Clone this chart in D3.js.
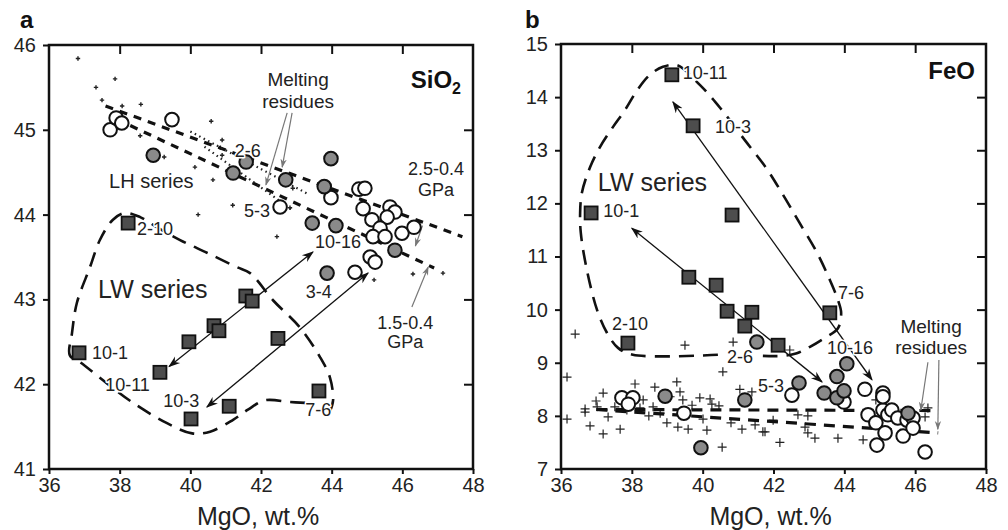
<!DOCTYPE html>
<html>
<head>
<meta charset="utf-8">
<script src="https://cdn.jsdelivr.net/npm/d3@7"></script>
<style>
  body { margin: 0; background: #fff; }
  svg { font-family: "Liberation Sans", Arial, sans-serif; }
  .axis path { display: none; }
  .axis line { stroke: #111; stroke-width: 2; }
  .axis text { font-size: 20px; fill: #222; }
  .lbl { paint-order: stroke; stroke: #fff; stroke-width: 3px; stroke-linejoin: round; }
</style>
</head>
<body>
<svg id="FIG" width="1008" height="530"></svg>
<script>
var xTicks = [36, 38, 40, 42, 44, 46, 48];

// ---------- panel a : SiO2 ----------
var aTicksY = [41, 42, 43, 44, 45, 46];
var aLW = [[38.24,43.90],[36.85,42.37],[39.14,42.14],[40.02,41.59],[41.10,41.74],[39.96,42.50],
  [40.67,42.69],[40.81,42.63],[41.57,43.04],[41.75,42.98],[42.48,42.54],[43.64,41.92]];
var aGray = [[38.95,44.70],[41.21,44.49],[41.58,44.62],[42.70,44.41],[43.79,44.33],[43.98,44.66],
  [43.45,43.90],[44.12,43.87],[45.79,43.58],[43.87,43.31]];
var aOpen = [[37.73,45.00],[37.90,45.14],[38.06,45.08],[39.48,45.12],[42.54,44.09],[43.98,44.20],
  [44.77,44.30],[44.94,44.31],[44.89,44.07],[45.14,43.94],[45.65,44.09],[45.79,44.03],[45.57,43.97],
  [45.37,43.84],[45.17,43.74],[45.51,43.74],[45.99,43.78],[46.33,43.85],[45.09,43.50],[45.23,43.44],
  [44.66,43.32]];
var aPlus = [[36.82,45.84],[37.87,45.60],[37.33,45.50],[37.50,45.35],[38.07,45.28],[38.60,45.30],
  [38.58,44.93],[40.59,45.10],[39.26,44.68],[40.13,44.56],[40.64,44.41],[40.90,44.88],[40.85,44.79],
  [40.90,44.70],[41.20,44.11],[40.22,44.00],[42.45,43.74],[46.30,43.30],[47.15,43.31],[45.20,43.23],
  [42.90,44.31],[42.82,44.08]];
var aTrendHigh = [[37.6,45.28],[47.7,43.74]];
var aTrendLow = [[38.3,45.05],[46.9,43.37]];
var aDotA = [[40.0,44.98],[43.3,44.25]];
var aDotB = [[40.4,44.80],[42.9,44.05]];
var aEnvelope = [[43.25,41.78],[42.82,41.79],[42.11,41.81],[41.63,41.70],[41.21,41.58],[40.56,41.44],
  [40.05,41.42],[39.34,41.54],[38.38,41.78],[37.64,42.01],[36.88,42.26],[36.59,42.34],[36.65,42.60],
  [36.79,42.96],[37.16,43.38],[37.44,43.70],[37.81,43.94],[38.15,44.02],[38.58,43.97],[39.06,43.85],
  [39.71,43.70],[40.47,43.55],[41.32,43.38],[41.69,43.31],[42.34,42.99],[43.10,42.67],[43.67,42.32],
  [43.95,42.08],[44.04,41.81],[43.95,41.68]];
// [x1, y1, x2, y2, both heads]
var aArrows = [[39.40,42.21,43.47,43.56,1],[40.47,41.73,45.03,43.31,1]];
var aGrayArrows = [[42.74,45.20,42.14,44.35],[42.88,45.20,42.60,44.56],
  [46.57,43.87,46.37,43.63],[46.27,42.91,46.73,43.38]];
// [text, x, y, size, anchor]
var aLabels = [["2-10",38.49,43.83,18],["10-1",37.22,42.37,18],["10-11",37.59,42.00,18],
  ["10-3",39.23,41.81,18],["7-6",43.25,41.70,18],["LW series",37.39,43.12,25],["LH series",37.70,44.40,20],
  ["2-6",41.26,44.76,18],["5-3",41.52,44.05,18],["10-16",43.53,43.68,18],["3-4",43.27,43.09,18],
  ["Melting",43.05,45.60,19,"middle"],["residues",43.05,45.34,19,"middle"],
  ["2.5-0.4",46.95,44.54,18,"middle"],["GPa",46.95,44.29,18,"middle"],
  ["1.5-0.4",46.08,42.73,18,"middle"],["GPa",46.08,42.50,18,"middle"]];

// ---------- panel b : FeO ----------
var bTicksY = [7, 8, 9, 10, 11, 12, 13, 14, 15];
var bLW = [[39.13,14.42],[39.73,13.46],[36.85,11.82],[40.83,11.78],[39.61,10.61],[40.38,10.46],
  [40.69,9.97],[41.19,9.69],[41.39,9.95],[37.89,9.37],[42.13,9.33],[43.59,9.94]];
var bGray = [[41.53,9.39],[42.72,8.62],[44.07,8.98],[43.79,8.74],[43.43,8.43],[43.79,8.34],
  [43.99,8.47],[45.80,8.05],[38.94,8.37],[41.19,8.30],[39.95,7.40]];
var bOpen = [[37.72,8.34],[38.03,8.34],[37.90,8.22],[39.47,8.05],[42.52,8.39],[43.99,8.26],
  [44.58,8.50],[45.09,8.43],[44.67,8.02],[44.89,7.87],[45.09,8.11],[45.23,8.02],[45.34,8.11],
  [45.51,7.96],[45.77,7.92],[45.94,7.96],[45.15,7.68],[45.66,7.62],[45.94,7.77],[44.92,7.45],
  [46.28,7.32],[45.09,8.36]];
var bPlus = [[36.40,9.54],[36.17,8.73],[36.17,7.94],[39.50,9.33],[40.86,9.39],[40.57,8.83],
  [39.27,8.64],[38.09,8.60],[37.19,8.43],[38.65,8.54],[41.05,8.50],[41.39,8.45],[36.99,8.28],
  [36.68,8.13],[37.33,7.98],[36.82,7.81],[37.19,7.66],[37.67,7.75],[38.23,8.15],[38.48,8.00],
  [38.99,7.87],[39.30,7.79],[39.59,7.75],[40.01,7.94],[40.12,7.73],[40.55,7.41],[40.21,8.32],
  [40.46,8.19],[40.80,7.87],[41.11,7.75],[41.48,7.83],[41.70,7.70],[41.99,7.92],[39.08,8.36],
  [39.44,8.30],[39.70,8.20],[37.52,8.17],[37.86,8.11],[38.60,8.17],[38.80,8.05],[46.36,8.15],
  [46.28,7.98],[42.69,8.02],[42.97,8.00],[42.89,7.79],[42.97,7.68],[43.17,7.58],[43.82,7.58],
  [44.53,7.55],[42.18,7.50],[44.89,8.30],[41.76,7.70],[42.46,9.24],[39.92,8.34],[40.26,8.22],
  [39.36,8.45],[38.32,8.30],[37.02,8.17],[36.68,8.07]];
var bTrendHigh = [[37.0,8.12],[46.5,8.10]];
var bTrendLow = [[37.0,8.12],[46.65,7.68]];
var bEnvelope = [[40.43,9.15],[38.03,9.15],[37.61,9.28],[37.30,9.56],[37.02,9.99],[36.73,10.75],
  [36.56,11.44],[36.54,11.82],[36.59,12.20],[36.82,12.68],[37.10,13.06],[37.47,13.44],[37.81,13.76],
  [38.15,14.13],[38.51,14.42],[38.88,14.57],[39.28,14.60],[39.92,14.23],[40.49,13.80],[41.19,13.19],
  [41.79,12.67],[42.27,12.16],[42.72,11.65],[43.23,11.07],[43.59,10.56],[43.82,10.18],[43.91,9.94],
  [43.82,9.65],[43.45,9.47],[43.03,9.30],[42.66,9.18],[42.27,9.13],[41.70,9.13]];
var bArrows = [[39.16,13.91,44.78,8.68,1],[38.00,11.53,43.37,8.64,1]];
var bGrayArrows = [[46.36,9.01,46.16,8.11],[46.67,9.05,46.64,7.75]];
var bLabels = [["10-11",39.44,14.47,18],["10-3",40.35,13.44,18],["LW series",37.04,12.40,25],
  ["10-1",37.19,11.86,18],["2-10",37.44,9.73,18],["2-6",40.69,9.11,18],["5-3",41.56,8.58,18],
  ["10-16",43.51,9.28,18],["7-6",43.82,10.33,18],
  ["Melting",46.45,9.68,19,"middle"],["residues",46.45,9.30,19,"middle"]];

var svg = d3.select("#FIG");
var defs = svg.append("defs");

function addHead(id, color, size) {
  defs.append("marker")
    .attr("id", id)
    .attr("viewBox", "0 0 10 10")
    .attr("refX", 9).attr("refY", 5)
    .attr("markerUnits", "userSpaceOnUse")
    .attr("markerWidth", size).attr("markerHeight", size)
    .attr("orient", "auto-start-reverse")
    .append("path")
    .attr("d", "M0,1.5L10,5L0,8.5L3,5Z")
    .attr("fill", color);
}
addHead("head", "#111", 12);
addHead("headGray", "#777", 9);

function plus(s) { return "M" + (-s) + ",0H" + s + "M0," + (-s) + "V" + s; }

function drawPanel(P) {
  var x = d3.scaleLinear().domain([36, 48]).range(P.xr);
  var y = d3.scaleLinear().domain(P.yd).range(P.yr);
  var g = svg.append("g");
  var line = d3.line()
    .defined(function(d) { return d != null; })
    .x(function(d) { return x(d[0]); })
    .y(function(d) { return y(d[1]); });

  // axes (outer ticks on bottom/left, inner mirror ticks top/right)
  g.append("g").attr("class", "axis")
    .attr("transform", "translate(0," + P.yr[0] + ")")
    .call(d3.axisBottom(x).tickValues(xTicks).tickFormat(d3.format("d"))
      .tickSizeInner(5).tickSizeOuter(0).tickPadding(4));
  g.append("g").attr("class", "axis")
    .attr("transform", "translate(" + P.xr[0] + ",0)")
    .call(d3.axisLeft(y).tickValues(P.yTicks).tickFormat(d3.format("d"))
      .tickSizeInner(6).tickSizeOuter(0).tickPadding(7));
  g.append("g").attr("class", "axis")
    .attr("transform", "translate(0," + P.yr[1] + ")")
    .call(d3.axisTop(x).tickValues(xTicks.slice(1, -1)).tickSize(-9).tickFormat(""));
  g.append("g").attr("class", "axis")
    .attr("transform", "translate(" + P.xr[1] + ",0)")
    .call(d3.axisRight(y).tickValues(P.yTicks.slice(1, -1)).tickSize(-9).tickFormat(""));
  g.append("rect")
    .attr("x", P.xr[0]).attr("y", P.yr[1])
    .attr("width", P.xr[1] - P.xr[0]).attr("height", P.yr[0] - P.yr[1])
    .attr("fill", "none").attr("stroke", "#111").attr("stroke-width", 2.5);

  // small crosses
  g.append("g").selectAll("path").data(P.plus).enter().append("path")
    .attr("transform", function(d) { return "translate(" + x(d[0]) + "," + y(d[1]) + ")"; })
    .attr("d", plus(P.plusSize))
    .attr("stroke", "#222").attr("stroke-width", P.plusWidth).attr("fill", "none");

  // melting residue trends
  P.trends.forEach(function(t) {
    g.append("path").attr("d", line(t))
      .attr("fill", "none").attr("stroke", "#111").attr("stroke-width", 3.2)
      .attr("stroke-dasharray", P.trendDash);
  });
  (P.dots || []).forEach(function(t) {
    g.append("path").attr("d", line(t))
      .attr("fill", "none").attr("stroke", "#222").attr("stroke-width", 2.2)
      .attr("stroke-dasharray", "1.5,3.5");
  });

  // LW envelope
  g.append("path")
    .attr("d", line.curve(d3.curveCatmullRom)(P.envelope))
    .attr("fill", "none").attr("stroke", "#111").attr("stroke-width", 2.6)
    .attr("stroke-dasharray", "15,9");
  line.curve(d3.curveLinear);

  // arrows
  g.append("g").selectAll("line").data(P.arrows).enter().append("line")
    .attr("x1", function(d) { return x(d[0]); }).attr("y1", function(d) { return y(d[1]); })
    .attr("x2", function(d) { return x(d[2]); }).attr("y2", function(d) { return y(d[3]); })
    .attr("stroke", "#111").attr("stroke-width", 1.3)
    .attr("marker-end", "url(#head)")
    .attr("marker-start", function(d) { return d[4] ? "url(#head)" : null; });
  g.append("g").selectAll("line").data(P.grayArrows).enter().append("line")
    .attr("x1", function(d) { return x(d[0]); }).attr("y1", function(d) { return y(d[1]); })
    .attr("x2", function(d) { return x(d[2]); }).attr("y2", function(d) { return y(d[3]); })
    .attr("stroke", "#777").attr("stroke-width", 1.2)
    .attr("marker-end", "url(#headGray)");

  // LW squares
  g.append("g").selectAll("rect").data(P.lw).enter().append("rect")
    .attr("x", function(d) { return x(d[0]) - 6.5; }).attr("y", function(d) { return y(d[1]) - 6.5; })
    .attr("width", 13).attr("height", 13)
    .attr("fill", "#4d4d4d").attr("stroke", "#111").attr("stroke-width", 1.8);
  // LH open + gray circles
  g.append("g").selectAll("circle").data(P.open).enter().append("circle")
    .attr("cx", function(d) { return x(d[0]); }).attr("cy", function(d) { return y(d[1]); })
    .attr("r", 6.8).attr("fill", "#fff").attr("stroke", "#111").attr("stroke-width", 2);
  g.append("g").selectAll("circle").data(P.gray).enter().append("circle")
    .attr("cx", function(d) { return x(d[0]); }).attr("cy", function(d) { return y(d[1]); })
    .attr("r", 6.8).attr("fill", "#8a8a8a").attr("stroke", "#111").attr("stroke-width", 2);

  // labels
  g.append("g").selectAll("text").data(P.labels).enter().append("text")
    .attr("class", "lbl")
    .attr("x", function(d) { return x(d[1]); }).attr("y", function(d) { return y(d[2]); })
    .attr("dy", "0.36em")
    .attr("text-anchor", function(d) { return d[4] || "start"; })
    .style("font-size", function(d) { return d[3] + "px"; })
    .attr("fill", "#222")
    .text(function(d) { return d[0]; });

  // axis title
  g.append("text")
    .attr("x", (P.xr[0] + P.xr[1]) / 2 - 3).attr("y", 525)
    .attr("text-anchor", "middle").style("font-size", "25px").attr("fill", "#222")
    .text("MgO, wt.%");
  g.append("text")
    .attr("x", P.letterX).attr("y", P.letterY)
    .style("font-size", "24px").style("font-weight", "bold").attr("fill", "#111")
    .text(P.letter);
  return g;
}

var ga = drawPanel({
  xr: [49, 473], yr: [469, 45], yd: [41, 46], yTicks: aTicksY,
  lw: aLW, gray: aGray, open: aOpen, plus: aPlus, plusSize: 2.2, plusWidth: 1.4,
  trends: [aTrendHigh, aTrendLow], trendDash: "8,7", dots: [aDotA, aDotB],
  envelope: aEnvelope, arrows: aArrows, grayArrows: aGrayArrows, labels: aLabels,
  letter: "a", letterX: 20, letterY: 28
});
ga.append("text").attr("x", 461).attr("y", 88).attr("text-anchor", "end")
  .style("font-size", "24px").style("font-weight", "bold").attr("fill", "#111")
  .text("SiO").append("tspan").attr("dy", 6).style("font-size", "16px").text("2");

var gb = drawPanel({
  xr: [561, 986], yr: [469, 44], yd: [7, 15], yTicks: bTicksY,
  lw: bLW, gray: bGray, open: bOpen, plus: bPlus, plusSize: 4.5, plusWidth: 1.2,
  trends: [bTrendHigh, bTrendLow], trendDash: "11,8",
  envelope: bEnvelope, arrows: bArrows, grayArrows: bGrayArrows, labels: bLabels,
  letter: "b", letterX: 525, letterY: 28
});
gb.append("text").attr("x", 975).attr("y", 79).attr("text-anchor", "end")
  .style("font-size", "24px").style("font-weight", "bold").attr("fill", "#111")
  .text("FeO");
</script>
</body>
</html>
